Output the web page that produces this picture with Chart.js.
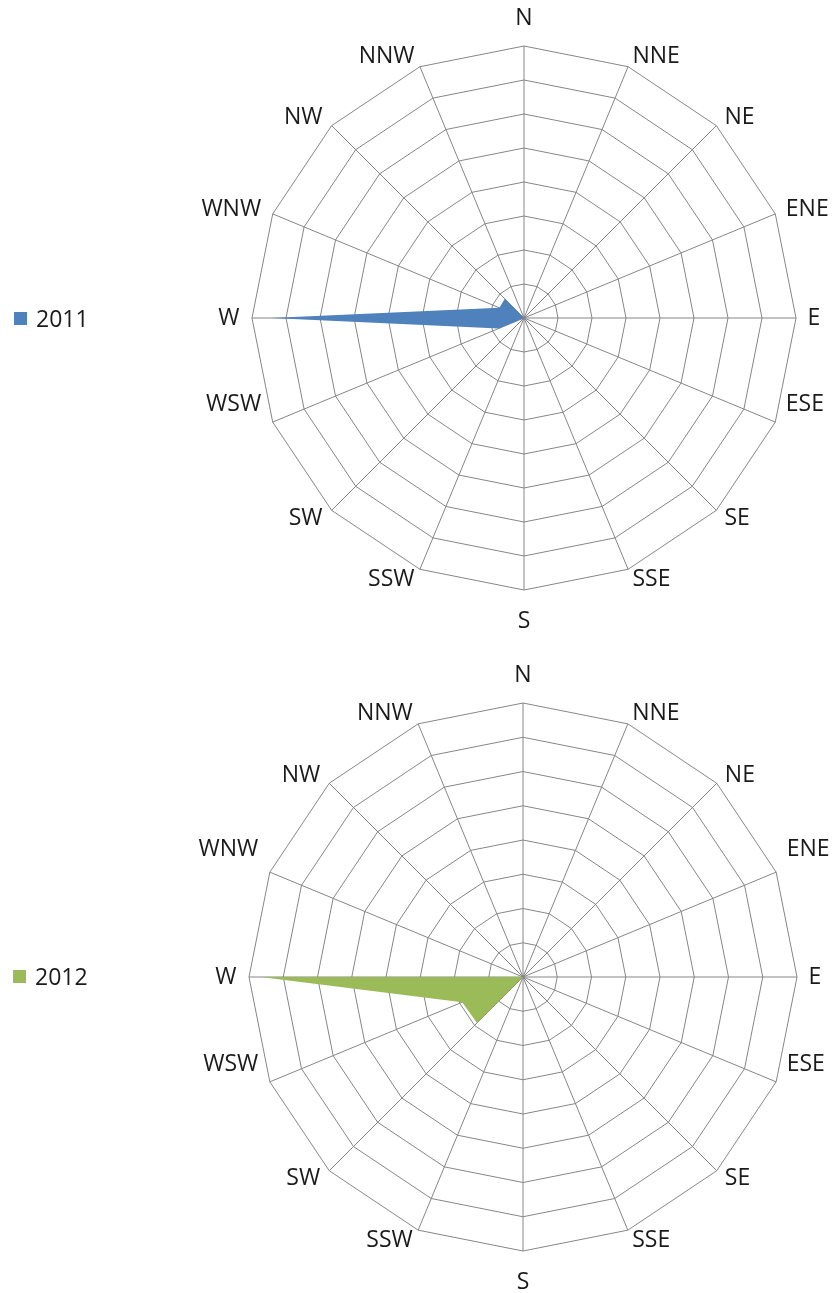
<!DOCTYPE html>
<html>
<head>
<meta charset="utf-8">
<script src="https://cdn.jsdelivr.net/npm/chart.js@4.4.1/dist/chart.umd.min.js"></script>
<style>
  html, body { margin: 0; padding: 0; background: #fff; overflow: hidden; }
  body { width: 834px; height: 1293px; position: relative; font-family: "Open Sans", sans-serif; }
  .wrap { position: absolute; left: 0; width: 834px; }
  .legend { position: absolute; display: flex; align-items: center; font-size: 23px; line-height: 26px; color: #1a1a1a; }
  .legend .sw { width: 13px; height: 13px; margin-right: 9px; }
</style>
</head>
<body>
<div class="wrap" style="top:0px; height:646px;"><canvas id="c1"></canvas></div>
<div class="legend" style="left:14px; top:305px;"><span class="sw" style="background:#4F81BD"></span><span>2011</span></div>
<div class="wrap" style="top:646px; height:647px;"><canvas id="c2"></canvas></div>
<div class="legend" style="left:13px; top:963px;"><span class="sw" style="background:#9BBB59"></span><span>2012</span></div>
<script>
const directions = ["N","NNE","NE","ENE","E","ESE","SE","SSE","S","SSW","SW","WSW","W","WNW","NW","NNW"];
const series2011 = [0,0,0,0,0,0,0,0,0,0,0,4.0,37.2,3.9,4.0,0];
const series2012 = [0,0,0,0,0,0,0,0,0,0,9.5,9.6,38.3,0,0,0];
const seriesNames = ["2011","2012"];
const seriesColors = ["#4F81BD","#9BBB59"];
const axisMin = 0, axisMax = 40, axisStep = 5;

// Excel-style direction labels placed just outside the outer ring
const dirLabels = {
  id: 'dirLabels',
  afterDraw(chart, args, opts) {
    const scale = chart.scales.r;
    const ctx = chart.ctx;
    ctx.save();
    ctx.font = opts.size + 'px ' + opts.family;
    ctx.fillStyle = opts.color;
    chart.data.labels.forEach((lab, i) => {
      const p = scale.getPointPosition(i, scale.drawingArea + opts.gap);
      const a = scale.getIndexAngle(i);
      const s = Math.sin(a), c = Math.cos(a);
      let x = p.x, y = p.y;
      if (Math.abs(s) < 1e-6) ctx.textAlign = 'center';
      else if (s > 0) ctx.textAlign = 'left';
      else { ctx.textAlign = 'right'; x -= 1; }
      if (c > 1 - 1e-6) { ctx.textBaseline = 'alphabetic'; y -= opts.topDrop; }
      else if (c < -1 + 1e-6) { ctx.textBaseline = 'alphabetic'; y += opts.bottomDrop; }
      else ctx.textBaseline = 'middle';
      if (opts.lift && opts.lift[lab]) y -= opts.lift[lab];
      ctx.fillText(lab, x, y);
    });
    ctx.restore();
  }
};

function makeChart(id, name, values, color, pad, lift) {
  return new Chart(document.getElementById(id), {
    type: 'radar',
    data: {
      labels: directions,
      datasets: [{
        label: name,
        data: values,
        backgroundColor: color,
        borderColor: color,
        borderWidth: 0,
        fill: true,
        pointRadius: 0,
        pointHoverRadius: 0,
        tension: 0
      }]
    },
    plugins: [dirLabels],
    options: {
      responsive: true,
      maintainAspectRatio: false,
      animation: false,
      layout: { padding: pad },
      plugins: {
        legend: { display: false },
        tooltip: { enabled: false },
        dirLabels: { gap: 11.4, topDrop: 9.6, bottomDrop: 26.5, size: 23, family: "'Open Sans', sans-serif", color: '#1a1a1a', lift: lift }
      },
      scales: {
        r: {
          z: 1,
          min: axisMin,
          max: axisMax,
          beginAtZero: true,
          ticks: { display: false, stepSize: axisStep },
          grid: { color: '#868686', lineWidth: 1, circular: false },
          angleLines: { color: '#868686', lineWidth: 1 },
          pointLabels: { display: false }
        }
      }
    }
  });
}
makeChart('c1', seriesNames[0], series2011, seriesColors[0], { left: 252, right: 38, top: 46, bottom: 56 }, { ESE: 22, WSW: 22 });
makeChart('c2', seriesNames[1], series2012, seriesColors[1], { left: 249, right: 37, top: 57, bottom: 42 }, { ESE: 22, WSW: 22, ENE: 18, WNW: 18 });
</script>
</body>
</html>
